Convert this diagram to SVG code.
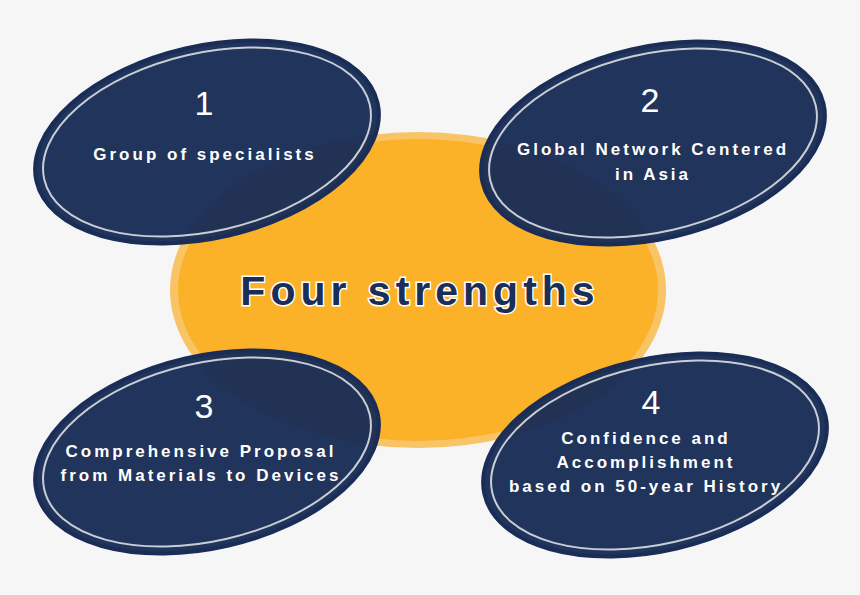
<svg xmlns="http://www.w3.org/2000/svg" width="860" height="595" viewBox="0 0 860 595">
<style>
.n{fill:#1a2d56;fill-opacity:0.97;stroke:#1a2d56;stroke-width:4}
.r{fill:none;stroke:#c9cdd6;stroke-width:2}
.num{font-family:"Liberation Sans",Arial,sans-serif;font-size:34px;fill:#fff;text-anchor:middle}
.t{font-family:"Liberation Sans",Arial,sans-serif;font-size:17px;font-weight:bold;fill:#fff;text-anchor:middle;letter-spacing:3px}
</style>
<rect width="860" height="595" fill="#f6f6f6"/>
<g id="center">
<ellipse cx="418" cy="290" rx="248" ry="158" fill="#f8c466"/>
<ellipse cx="418" cy="290" rx="240" ry="151" fill="#fbb128"/>
<text x="420" y="305" font-family="'Liberation Sans',Arial,sans-serif" font-size="41" font-weight="bold" fill="#1b2e57" stroke="#fff" stroke-width="3" paint-order="stroke" text-anchor="middle" letter-spacing="5">Four strengths</text>
</g>
<g id="n1">
<ellipse class="n" cx="207" cy="142" rx="175" ry="96" transform="rotate(-13 207 142)"/>
<ellipse class="r" cx="207" cy="142" rx="167" ry="89" transform="rotate(-13 207 142)"/>
<text class="num" x="204" y="115">1</text>
<text class="t" x="205" y="160">Group of specialists</text>
</g>
<g id="n2">
<ellipse class="n" cx="653" cy="143" rx="175" ry="96" transform="rotate(-13 653 143)"/>
<ellipse class="r" cx="653" cy="143" rx="167" ry="89" transform="rotate(-13 653 143)"/>
<text class="num" x="650" y="112">2</text>
<text class="t" x="653" y="155">Global Network Centered</text>
<text class="t" x="653" y="180">in Asia</text>
</g>
<g id="n3">
<ellipse class="n" cx="207" cy="452" rx="175" ry="96" transform="rotate(-13 207 452)"/>
<ellipse class="r" cx="207" cy="452" rx="167" ry="89" transform="rotate(-13 207 452)"/>
<text class="num" x="204" y="418">3</text>
<text class="t" x="201" y="457">Comprehensive Proposal</text>
<text class="t" x="201" y="481">from Materials to Devices</text>
</g>
<g id="n4">
<ellipse class="n" cx="655" cy="455" rx="175" ry="96" transform="rotate(-13 655 455)"/>
<ellipse class="r" cx="655" cy="455" rx="167" ry="89" transform="rotate(-13 655 455)"/>
<text class="num" x="651" y="414">4</text>
<text class="t" x="646" y="444">Confidence and</text>
<text class="t" x="646" y="468">Accomplishment</text>
<text class="t" x="646" y="492">based on 50-year History</text>
</g>
<g id="connectors"/>
</svg>
